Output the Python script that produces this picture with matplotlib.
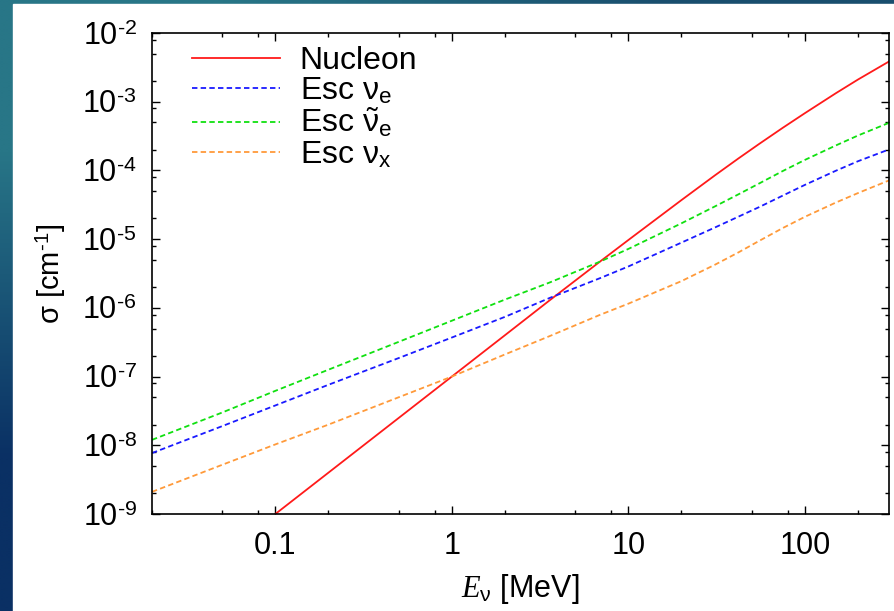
import matplotlib
matplotlib.use('Agg')
import matplotlib.pyplot as plt
import numpy as np
from matplotlib.ticker import LogLocator, NullFormatter
from matplotlib.patches import Rectangle

plt.rcParams['font.family'] = ['Liberation Sans', 'DejaVu Sans']
plt.rcParams['mathtext.fontset'] = 'custom'
plt.rcParams['mathtext.rm'] = 'Liberation Sans'
plt.rcParams['mathtext.it'] = 'Liberation Serif:italic'
plt.rcParams['mathtext.bf'] = 'Liberation Sans:bold'

# neutrino energy [MeV] and opacities [cm^-1]
energy = [0.02, 0.05, 0.1, 0.2, 0.5, 1, 2, 3.6, 6.9, 10, 20, 31, 42, 55, 75, 100, 150, 200, 300]

nucleon = [4e-11, 2.5e-10, 1.0e-9, 4.0e-9, 2.5e-8, 1.0e-7, 4.0e-7, 1.3e-6, 4.7e-6,
           9.7e-6, 3.7e-5, 8.5e-5, 1.49e-4, 2.42e-4, 4.17e-4, 6.8e-4, 1.33e-3, 2.1e-3, 3.85e-3]
esc_nue = [7.7e-9, 1.9e-8, 3.8e-8, 7.6e-8, 1.86e-7, 3.7e-7, 7.4e-7, 1.4e-6, 2.7e-6,
           4.0e-6, 8.9e-6, 1.48e-5, 2.12e-5, 2.92e-5, 4.3e-5, 6.15e-5, 9.9e-5, 1.36e-4, 2.02e-4]
esc_nuebar = [1.2e-8, 3.0e-8, 6.2e-8, 1.26e-7, 3.2e-7, 6.5e-7, 1.32e-6, 2.35e-6, 4.7e-6,
              7.2e-6, 1.7e-5, 3.0e-5, 4.48e-5, 6.44e-5, 9.8e-5, 1.42e-4, 2.31e-4, 3.22e-4, 4.93e-4]
esc_nux = [2.1e-9, 5.2e-9, 1.03e-8, 2.0e-8, 5.0e-8, 1.0e-7, 2.1e-7, 3.9e-7, 7.9e-7,
           1.15e-6, 2.45e-6, 4.25e-6, 6.4e-6, 9.4e-6, 1.45e-5, 2.11e-5, 3.41e-5, 4.68e-5, 7.16e-5]

xticks = [0.1, 1, 10, 100]
xticklabels = ['0.1', '1', '10', '100']
yticks = [1e-9, 1e-8, 1e-7, 1e-6, 1e-5, 1e-4, 1e-3, 1e-2]
yticklabels = [r'$10^{\text{-%d}}$' % k for k in range(9, 1, -1)]

fig = plt.figure(figsize=(8.95, 6.11), dpi=100)

# slide background strip (dark blue gradient) behind the white picture
bg = fig.add_axes([0, 0, 1, 1])
bg.axis('off')
corners = np.array([[[40, 118, 135], [25, 78, 110]],
                    [[10, 48, 100], [20, 60, 105]]]) / 255.0
bg.imshow(corners, extent=(0, 1, 0, 1), interpolation='bilinear', aspect='auto')
bg.add_patch(Rectangle((13 / 895, 0), 1, 1 - 4 / 611, color='white', zorder=2))
bg.set_xlim(0, 1)
bg.set_ylim(0, 1)

ax = fig.add_axes([152 / 895, 1 - 514 / 611, 737 / 895, 481 / 611])
ax.set_facecolor('white')

ax.plot(energy, nucleon, color='#ff1a1a', lw=1.3, label='Nucleon')
ax.plot(energy, esc_nue, color='#1a1aff', lw=1.3, dashes=(3, 1.8),
        label=r'Esc $\mathrm{\nu}_\mathrm{e}$')
ax.plot(energy, esc_nuebar, color='#10e010', lw=1.3, dashes=(3, 1.8),
        label=r'Esc $\tilde{\mathrm{\nu}}_\mathrm{e}$')
ax.plot(energy, esc_nux, color='#ff9a3a', lw=1.3, dashes=(3, 1.8),
        label=r'Esc $\mathrm{\nu}_\mathrm{x}$')

ax.set_xscale('log')
ax.set_yscale('log')
ax.set_xlim(0.02, 300)
ax.set_ylim(1e-9, 1e-2)

ax.set_xticks(xticks)
ax.set_xticklabels(xticklabels)
ax.set_yticks(yticks)
ax.set_yticklabels(yticklabels)
ax.xaxis.set_minor_locator(LogLocator(base=10, subs=(2, 5, 8), numticks=20))
ax.yaxis.set_minor_locator(LogLocator(base=10, subs=(2, 5, 8), numticks=20))
ax.xaxis.set_minor_formatter(NullFormatter())
ax.yaxis.set_minor_formatter(NullFormatter())

ax.tick_params(which='both', direction='in', top=True, right=True, width=1.0,
               labelsize=22, colors='black')
ax.tick_params(which='major', length=5.5)
ax.tick_params(which='minor', length=3)
ax.tick_params(axis='x', pad=12)
ax.tick_params(axis='y', pad=11)
for s in ax.spines.values():
    s.set_linewidth(1.2)

ax.set_xlabel(r'$E_\mathrm{\nu}$ [MeV]', fontsize=22, labelpad=8)
ax.set_ylabel(r'$\mathrm{\sigma}$ [cm$^{\text{-1}}$]', fontsize=21, labelpad=10)

ax.legend(loc='upper left', bbox_to_anchor=(0.037, 1.0), frameon=False, fontsize=23,
          handlelength=2.75, handletextpad=0.62, labelspacing=0.0, borderaxespad=0)

fig.savefig('out.png', dpi=100)
